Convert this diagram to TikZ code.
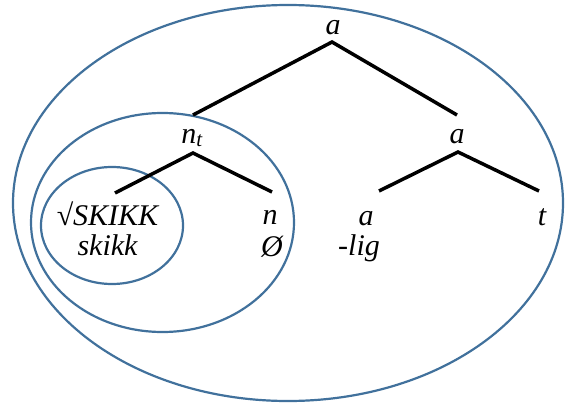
\documentclass[tikz,border=0pt]{standalone}
\usepackage{fontspec}
\usepackage{xcolor}
\setmainfont{Liberation Serif}
\definecolor{ringblue}{RGB}{65,113,156}
\tikzset{
  lbl/.style={anchor=base,inner sep=0pt,font=\rmfamily\fontsize{30}{34}\selectfont\itshape},
  branch/.style={line width=3.5pt,draw=black},
  ring/.style={line width=2.2pt,draw=ringblue},
}
\begin{document}
\begin{tikzpicture}[x=1pt,y=1pt,yscale=-1,xscale=1]
\useasboundingbox (0,0) rectangle (565,404);
%Ellipse: outer
\draw [ring] (288,203) ellipse [x radius=275, y radius=198];
%Ellipse: middle
\draw [ring] (162.5,222.5) ellipse [x radius=131.5, y radius=109.5];
%Ellipse: inner
\draw [ring] (112,225.5) ellipse [x radius=71, y radius=58.5];

% Text Node
\node [lbl] (aTop) at (333,35) {a};
% Text Node
\node [lbl] (nT) at (192,143) {n\textsubscript{t}};
% Text Node
\node [lbl] (aMid) at (457,143) {a};
% Text Node
\node [lbl] (root) at (107.5,225) {√SKIKK};
% Text Node
\node [lbl] (skikk) at (107.5,255) {skikk};
% Text Node
\node [lbl] (nLeaf) at (270,224) {n};
% Text Node
\node [lbl] (nulLeaf) at (272,256) {Ø};
% Text Node
\node [lbl] (aLeaf) at (366,225) {a};
% Text Node
\node [lbl] (lig) at (359,255) {-lig};
% Text Node
\node [lbl] (tLeaf) at (542,225) {t};

%Branch ends
\coordinate (aTopFoot) at (332,42);
\coordinate (nTHead) at (193,115);
\coordinate (aMidHead) at (457,115);
\coordinate (nTFoot) at (193,153);
\coordinate (rootHead) at (115,193);
\coordinate (nLeafHead) at (272,192);
\coordinate (aMidFoot) at (458,152);
\coordinate (aLeafHead) at (379,191);
\coordinate (tLeafHead) at (539,191);

%Branches
\draw [branch] (nTHead) -- (aTopFoot) -- (aMidHead);
\draw [branch] (rootHead) -- (nTFoot) -- (nLeafHead);
\draw [branch] (aLeafHead) -- (aMidFoot) -- (tLeafHead);
\end{tikzpicture}
\end{document}
